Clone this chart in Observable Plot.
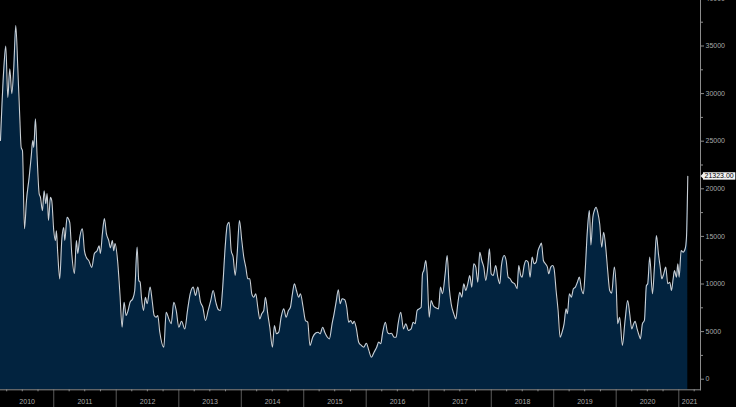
<!DOCTYPE html>
<html><head><meta charset="utf-8">
<script src="https://cdn.jsdelivr.net/npm/d3@7"></script>
<script src="https://cdn.jsdelivr.net/npm/@observablehq/plot@0.6"></script>
<style>html,body{margin:0;padding:0;background:#000;overflow:hidden}#chart svg{display:block}</style>
</head><body><div id="chart"></div>
<script>
// Dates as decimal years (one line per year)
const dates = [
  2010.147,2010.200,2010.232,2010.264,2010.296,2010.328,2010.360,2010.392,2010.424,2010.456,2010.478,2010.499,2010.531,2010.563,2010.606,2010.638,2010.664,2010.680,2010.707,2010.734,2010.766,2010.787,2010.819,2010.846,2010.872,2010.894,2010.915,2010.947,2010.968,
  2011.000,2011.027,2011.043,2011.064,2011.096,2011.128,2011.160,2011.176,2011.214,2011.256,2011.288,2011.331,2011.363,2011.384,2011.416,2011.459,2011.491,2011.523,2011.560,2011.608,2011.651,2011.694,2011.726,2011.747,2011.779,2011.811,2011.843,2011.880,2011.907,2011.939,2011.960,2011.982,
  2012.022,2012.059,2012.094,2012.126,2012.158,2012.190,2012.222,2012.264,2012.296,2012.334,2012.360,2012.382,2012.403,2012.435,2012.467,2012.494,2012.542,2012.574,2012.606,2012.638,2012.664,2012.696,2012.760,2012.798,2012.840,2012.878,2012.920,2012.958,
  2013.000,2013.043,2013.096,2013.139,2013.182,2013.230,2013.267,2013.304,2013.347,2013.384,2013.427,2013.470,2013.512,2013.550,2013.592,2013.635,2013.667,2013.699,2013.742,2013.774,2013.806,2013.838,2013.870,2013.902,2013.934,2013.971,
  2014.008,2014.040,2014.072,2014.104,2014.136,2014.168,2014.200,2014.232,2014.264,2014.296,2014.328,2014.360,2014.387,2014.424,2014.456,2014.499,2014.531,2014.563,2014.600,2014.638,2014.680,2014.718,2014.755,2014.787,2014.819,2014.851,2014.883,2014.920,2014.947,2014.990,
  2015.027,2015.064,2015.099,2015.144,2015.187,2015.230,2015.262,2015.304,2015.336,2015.379,2015.411,2015.454,2015.486,2015.518,2015.555,2015.582,2015.614,2015.656,2015.688,2015.720,2015.752,2015.784,2015.806,2015.838,2015.880,2015.923,2015.960,
  2016.003,2016.040,2016.083,2016.126,2016.168,2016.200,2016.232,2016.264,2016.307,2016.339,2016.371,2016.403,2016.446,2016.478,2016.510,2016.552,2016.595,2016.632,2016.675,2016.718,2016.750,2016.782,2016.814,2016.846,2016.878,2016.899,2016.920,2016.952,2016.974,
  2017.006,2017.038,2017.070,2017.112,2017.155,2017.187,2017.219,2017.262,2017.294,2017.326,2017.358,2017.400,2017.432,2017.464,2017.496,2017.528,2017.560,2017.592,2017.624,2017.656,2017.688,2017.720,2017.752,2017.784,2017.816,2017.848,2017.880,2017.912,2017.944,2017.971,2017.998,
  2018.030,2018.072,2018.104,2018.136,2018.163,2018.206,2018.238,2018.270,2018.302,2018.334,2018.376,2018.414,2018.440,2018.472,2018.494,2018.526,2018.558,2018.590,2018.622,2018.654,2018.686,2018.718,2018.750,2018.782,2018.803,2018.835,2018.867,2018.899,2018.920,2018.952,2018.984,
  2019.006,2019.038,2019.070,2019.102,2019.134,2019.166,2019.198,2019.219,2019.251,2019.283,2019.315,2019.347,2019.379,2019.411,2019.443,2019.475,2019.507,2019.539,2019.571,2019.595,2019.627,2019.651,2019.678,2019.704,2019.736,2019.768,2019.800,2019.832,2019.864,2019.896,2019.928,2019.971,
  2020.003,2020.024,2020.056,2020.099,2020.142,2020.184,2020.216,2020.248,2020.280,2020.302,2020.334,2020.366,2020.387,2020.419,2020.451,2020.483,2020.504,2020.536,2020.579,2020.611,2020.643,2020.675,2020.707,2020.728,2020.760,2020.792,2020.824,2020.856,2020.883,2020.910,2020.931,2020.963,2020.984,
  2021.006,2021.038,2021.070,2021.102,2021.123,2021.144
];
const values = [
  25070,32600,35000,29600,32600,30000,32750,37150,32750,27500,24350,24000,15800,18750,21200,23300,25070,24350,27350,23300,19500,19100,17700,19800,18430,19500,16670,19100,18750,
  15600,14570,15600,13200,10540,14570,15930,14570,17000,16460,13200,11100,14570,13200,14880,15800,13500,12780,12460,11750,13200,13500,14000,13200,15300,16880,15300,14570,13800,14570,13500,14250,
  12460,9000,5460,8090,6690,7220,8090,8450,9320,13870,10370,10190,8610,7220,8610,7920,9670,8270,6690,6510,6690,4940,3360,7040,6340,5820,8090,7220,
  5460,6090,5290,7220,8970,9670,8790,9670,8090,7560,6170,7220,8270,9320,8090,7290,7220,9320,13870,16150,16490,13520,12820,10890,13170,16670,
  14570,12820,11770,10550,10550,8970,8610,8970,7560,6340,6870,7220,8610,6870,5460,3360,5640,4770,4940,6510,7390,6510,7220,7560,8970,10020,9320,8610,8970,7560,
  6170,5990,3540,4410,4830,4940,4770,5460,4940,4410,4240,5820,6870,8090,9390,7920,8450,8350,7560,5990,6170,5820,6090,5460,3890,3540,3360,
  3780,3080,2310,2840,3360,3890,3720,4940,5990,4940,4770,4830,4410,4410,5820,7040,5290,5820,5120,5290,5990,5820,7220,7390,7560,11070,11420,12470,11070,
  6510,8270,7740,7500,7390,9670,8970,11070,12990,9670,7920,6870,6340,7920,9140,8610,10020,9320,10020,10890,9670,12120,11770,10190,13340,12470,11770,10370,11770,13700,11070,
  10890,11940,10720,10020,11940,12990,12470,10720,10550,10190,10020,9500,11940,10890,10720,11940,12470,12300,10720,12820,12120,12300,13520,14040,14290,12470,12120,11770,11070,11770,11940,
  11600,9320,7220,4410,4940,5820,7390,6870,8970,8610,9500,9670,10190,10720,9500,8970,11770,15620,17720,14100,17020,17720,18070,17540,16320,13870,15440,13870,11420,9320,9040,11770,
  9320,5820,6510,3540,6170,8270,6870,5290,5820,6090,5290,4590,4240,5820,6170,9840,10020,12820,8970,11770,15090,13170,11590,10550,11070,11770,10020,10190,9320,10550,11420,10720,12120,
  10720,13520,13350,13700,14920,21323
];
const yTicks = [0,5000,10000,15000,20000,25000,30000,35000,40000];
const yMinorTicks = [2500,7500,12500,17500,22500,27500,32500,37500];
const years = [2010,2011,2012,2013,2014,2015,2016,2017,2018,2019,2020,2021];

function decimalToDate(t) {
  const y = Math.floor(t);
  const a = Date.UTC(y, 0, 1), b = Date.UTC(y + 1, 0, 1);
  return new Date(a + (t - y) * (b - a));
}
const data = dates.map((t, i) => ({date: decimalToDate(t), value: values[i]}));
const last = data[data.length - 1];

const W = 736, H = 407, mL = 0, mR = 36, mT = 0, mB = 17.7;
const xDomain = [new Date(Date.UTC(2010, 0, 1)), new Date(Date.UTC(2021, 0, 1))];
const xRange = [-9.2, 678.3];
const yFloor = -1113;
const yDomain = [yFloor, 40000];
const yRange = [H - mB, -2.1];

const xs = d3.scaleUtc(xDomain, xRange);
const visStart = xs.invert(mL), visEnd = xs.invert(W - mR);
const yearStarts = years.slice(1).map(y => new Date(Date.UTC(y, 0, 1)));
const quarterTicks = [];
years.forEach(y => [0, 3, 6, 9].forEach(m => {
  const d = new Date(Date.UTC(y, m, 1));
  if (m !== 0 && d < visEnd) quarterTicks.push(d);
}));
const yearLabels = years.map(y => {
  const a = Math.max(+new Date(Date.UTC(y, 0, 1)), +visStart);
  const b = Math.min(+new Date(Date.UTC(y + 1, 0, 1)), +visEnd);
  return {center: new Date((a + b) / 2), label: String(y)};
});

const axisColor = "#8c8c8c";
const textColor = "#a9a9a9";

const chart = Plot.plot({
  width: W, height: H,
  marginLeft: mL, marginRight: mR, marginTop: mT, marginBottom: mB,
  style: {background: "#000", color: textColor, fontFamily: "'Liberation Sans', Arial, sans-serif", overflow: "visible"},
  x: {type: "utc", domain: xDomain, range: xRange},
  y: {domain: yDomain, range: yRange},
  marks: [
    Plot.areaY(data, {x: "date", y1: () => yFloor, y2: "value", fill: "#02233f", curve: "monotone-x"}),
    Plot.lineY(data, {x: "date", y: "value", stroke: "#c9cfd5", strokeWidth: 1.1, curve: "monotone-x"}),
    Plot.axisX({anchor: "bottom", ticks: yearStarts, tickSize: 18, text: null, stroke: "#5a5a5a", label: null}),
    Plot.axisX({anchor: "bottom", ticks: quarterTicks, tickSize: 2, text: null, stroke: axisColor, label: null}),
    Plot.frame({anchor: "bottom", stroke: axisColor}),
    Plot.frame({anchor: "right", stroke: axisColor}),
    Plot.axisY({anchor: "right", ticks: yMinorTicks, tickSize: 2, text: null, stroke: axisColor, label: null}),
    Plot.axisY({anchor: "right", ticks: yTicks, tickSize: 3, tickPadding: 2, tickFormat: d => String(d),
      fontSize: 7, fill: textColor, stroke: axisColor, label: null}),
    Plot.text(yearLabels, {x: "center", text: "label", frameAnchor: "bottom", dy: 14, fontSize: 7, fill: textColor}),
    Plot.text([last], {y: "value", frameAnchor: "right", dx: 4, textAnchor: "start",
      text: d => d.value.toFixed(2), fontSize: 7, fill: "#000"})
  ]
});
document.getElementById("chart").appendChild(chart);

// white value tag behind the last-value label
const lastText = last.value.toFixed(2);
chart.querySelectorAll("text").forEach(el => {
  if (el.textContent === lastText) {
    const bb = el.getBBox();
    const ns = "http://www.w3.org/2000/svg";
    const rect = document.createElementNS(ns, "rect");
    rect.setAttribute("x", bb.x - 1.5);
    rect.setAttribute("y", bb.y - 0.2);
    rect.setAttribute("width", bb.width + 3);
    rect.setAttribute("height", bb.height + 0.4);
    rect.setAttribute("fill", "#f2f2f2");
    const tip = document.createElementNS(ns, "polygon");
    const cy = bb.y + bb.height / 2, bx = bb.x - 1.5;
    tip.setAttribute("points", `${bx - 2.5},${cy} ${bx},${cy - 2.5} ${bx},${cy + 2.5}`);
    tip.setAttribute("fill", "#f2f2f2");
    const tr = el.getAttribute("transform");
    if (tr) { rect.setAttribute("transform", tr); tip.setAttribute("transform", tr); }
    el.parentNode.insertBefore(rect, el);
    el.parentNode.insertBefore(tip, el);
  }
});
</script>
</body></html>
